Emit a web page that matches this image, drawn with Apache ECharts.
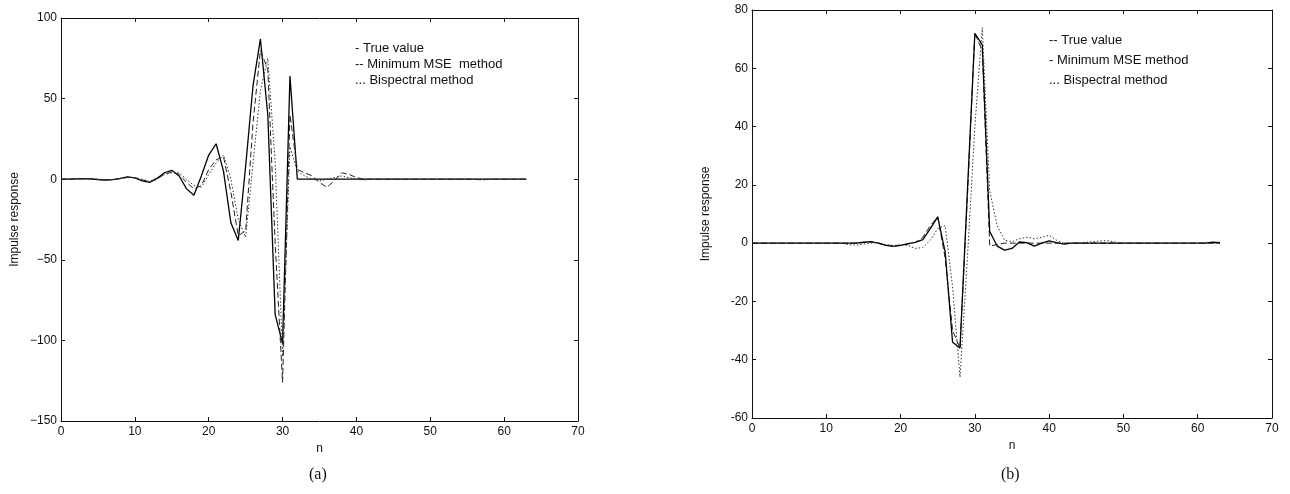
<!DOCTYPE html>
<html>
<head>
<meta charset="UTF-8">
<title>Impulse response</title>
<script src="https://cdn.jsdelivr.net/npm/echarts@6/dist/echarts.min.js"></script>
<style>
  html, body { margin: 0; padding: 0; background: #fff; }
  #chart { width: 1290px; height: 494px; }
</style>
</head>
<body>
<div id="chart"></div>
<script>
// sample index n
var nVals = [0,1,2,3,4,5,6,7,8,9,10,11,12,13,14,15,16,17,18,19,20,21,22,23,24,25,26,27,28,29,30,31,
             32,33,34,35,36,37,38,39,40,41,42,43,44,45,46,47,48,49,50,51,52,53,54,55,56,57,58,59,60,61,62,63];

// panel (a)
var trueA = [0,0,0.2,0.3,0.2,-0.2,-0.5,-0.3,0.5,1.5,0.8,-1,-2,0.5,4,5.5,2,-6,-10,2,15,22,5,-27,-38,8,58,87,40,-84,-102,64,
             0,0,0,0,0,0,0,0,0,0,0,0,0,0,0,0,0,0,0,0,0,0,0,0,0,0,0,0,0,0,0,0];
var mseA  = [0,0,0.2,0.3,0.2,-0.2,-0.5,-0.3,0.3,1.2,1,-0.5,-1.5,0,3,4.5,3,-2,-6,-4,6,12,14,-8,-35,-32,35,80,68,-40,-126,40,
             6,4,2,-2,-5,-1,4,3,1,0,0,0,0,0,0,0,0,0,0,0,0,0,0,0,0,-0.5,0,0,0,0,0,0];
var bispA = [0,0,0.2,0.3,0.2,0,-0.3,-0.2,0.3,1,1,0,-1.5,1,3,4,4,0,-4,-5,3,10,15,0,-25,-36,10,55,75,10,-110,20,
             5,2,0,-1,0,1,2,1,0,-0.5,0,0,0,0,0,0,0,0,0,0,0,0,0,0,0,0,0,0,0,0,0,0];

// panel (b)
var trueB = [0,0,0,0,0,0,0,0,0,0,0,0,0,0,0,0.2,0.4,0,-0.6,-1,-0.8,-0.3,0.3,2,6,9,-5,-30,-36,16,72,66,
             -1,-0.5,0,0,0,0,0,0,0,0,0,0,0,0,0,0,0,0,0,0,0,0,0,0,0,0,0,0,0,0,0,0];
var mseB  = [0,0,0,0,0,0,0,0,0,0,0,0,0,0,0,0.3,0.5,0,-0.8,-1.1,-0.8,-0.2,0.3,1.2,5,9,-3,-34,-36,18,72,68,
             4,-1,-2.4,-1.8,0.4,0.2,-1,0,0.8,0.2,-0.3,0,0,0,0,0,0,0,0,0,0,0,0,0,0,0,0,0,0,0,0.3,0.2];
var bispB = [0,0,0,0,0,0,0,0,0,0,0,0,0,-0.5,-0.7,-0.3,0,0.2,-0.5,-0.8,-0.5,-0.8,-1.8,-1.5,1,5,6,-15,-46,-5,40,74,
             18,6,1,0.5,1.5,2,1.5,2,2.7,1,0,0,0,0.3,0.5,0.8,0.8,0.3,0,0,0,0,0,0,0,0,0,0,0,0,0,0];

var xTicksMax = 70;
var legendA = ['- True value', '-- Minimum MSE  method', '... Bispectral method'];
var legendB = ['-- True value', '- Minimum MSE method', '... Bispectral method'];

function pairs(ys) {
  return ys.map(function (y, i) { return [nVals[i], y]; });
}

var chart = echarts.init(document.getElementById('chart'));
var ink = '#111';
var font = 'Liberation Sans, Arial, sans-serif';

function xAx(grid, pos) {
  return {
    type: 'value', gridIndex: grid, position: pos, min: 0, max: xTicksMax, interval: 10,
    name: pos === 'bottom' ? 'n' : '', nameLocation: 'middle', nameGap: 22,
    nameTextStyle: { color: ink, fontSize: 12, fontFamily: font },
    axisLine: { show: true, onZero: false, lineStyle: { color: ink, width: 1 } },
    axisTick: { show: true, inside: true, length: 4, lineStyle: { color: ink } },
    axisLabel: { show: pos === 'bottom', color: ink, fontSize: 12, fontFamily: font, margin: 5 },
    splitLine: { show: false }
  };
}

function yAx(grid, pos, min, max, step, minus) {
  return {
    type: 'value', gridIndex: grid, position: pos, min: min, max: max, interval: step,
    name: pos === 'left' ? 'Impulse response' : '', nameLocation: 'middle', nameGap: 40,
    nameTextStyle: { color: ink, fontSize: 12, fontFamily: font },
    axisLine: { show: true, onZero: false, lineStyle: { color: ink, width: 1 } },
    axisTick: { show: true, inside: true, length: 4, lineStyle: { color: ink } },
    axisLabel: {
      show: pos === 'left', color: ink, fontSize: 12, fontFamily: font, margin: 4,
      formatter: function (v) { return v < 0 ? minus + (-v) : String(v); }
    },
    splitLine: { show: false }
  };
}

function line(name, xi, yi, ys, type, width, color) {
  return {
    name: name, type: 'line', xAxisIndex: xi, yAxisIndex: yi, data: pairs(ys),
    showSymbol: false, symbol: 'none', animation: false, clip: true,
    lineStyle: { color: color, width: width, type: type }
  };
}

function legendText(lines, x, y, gap) {
  return lines.map(function (t, i) {
    return {
      type: 'text', left: x, top: y + i * gap,
      style: { text: t, fill: ink, font: '13px ' + font }
    };
  });
}

var option = {
  backgroundColor: '#fff',
  animation: false,
  grid: [
    { left: 61, top: 18, width: 517, height: 403 },
    { left: 752, top: 10, width: 520, height: 408 }
  ],
  xAxis: [xAx(0, 'bottom'), xAx(0, 'top'), xAx(1, 'bottom'), xAx(1, 'top')],
  yAxis: [
    yAx(0, 'left', -150, 100, 50, '\u2212'), yAx(0, 'right', -150, 100, 50, '\u2212'),
    yAx(1, 'left', -60, 80, 20, '-'), yAx(1, 'right', -60, 80, 20, '-')
  ],
  series: [
    line('True value', 0, 0, trueA, 'solid', 1.3, '#000'),
    line('Minimum MSE method', 0, 0, mseA, [6, 3], 1, '#222'),
    line('Bispectral method', 0, 0, bispA, [1.5, 2], 1, '#333'),
    line('True value', 2, 2, trueB, [6, 3], 1, '#222'),
    line('Minimum MSE method', 2, 2, mseB, 'solid', 1.3, '#000'),
    line('Bispectral method', 2, 2, bispB, [1.5, 2], 1, '#333')
  ],
  graphic: legendText(legendA, 355, 42, 16)
    .concat(legendText(legendB, 1049, 34, 20))
    .concat([
      { type: 'text', left: 309, top: 467, style: { text: '(a)', fill: ink, font: '16px Liberation Serif, Times New Roman, serif' } },
      { type: 'text', left: 1001, top: 467, style: { text: '(b)', fill: ink, font: '16px Liberation Serif, Times New Roman, serif' } }
    ])
};

chart.setOption(option);
</script>
</body>
</html>
